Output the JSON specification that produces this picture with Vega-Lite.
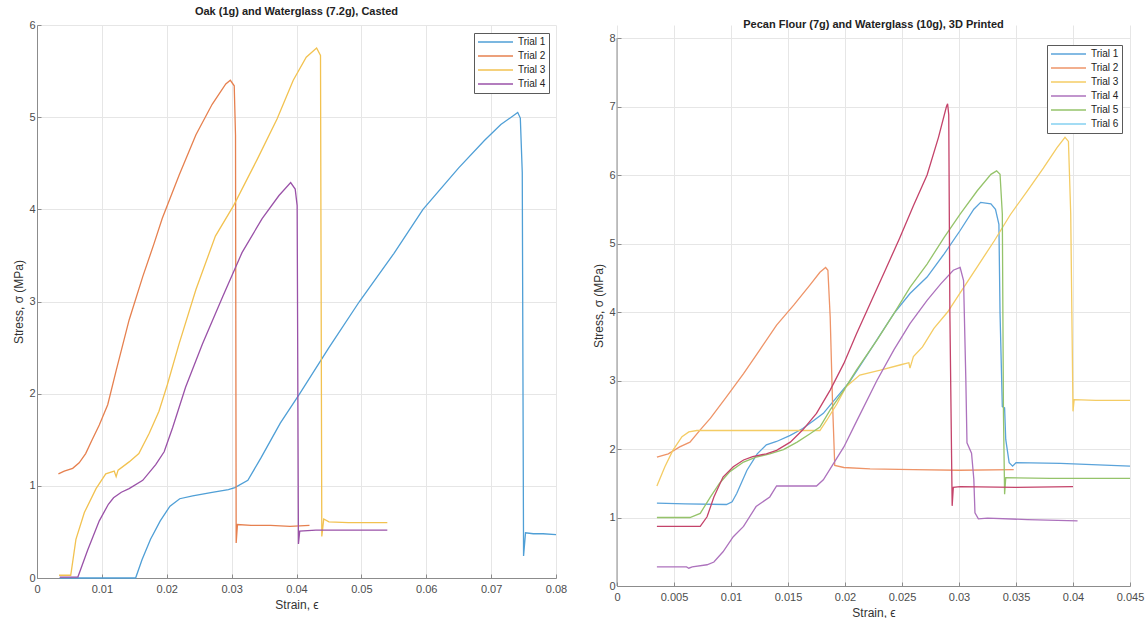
{
  "$schema": "https://vega.github.io/schema/vega-lite/v6.json",
  "padding": {"left": 12, "top": 6, "right": 5, "bottom": 0},
  "datasets": {
    "oak": [
      {"trial": "Trial 1", "strain": 0.0035, "stress": 0.0},
      {"trial": "Trial 1", "strain": 0.010, "stress": 0.0},
      {"trial": "Trial 1", "strain": 0.0152, "stress": 0.0},
      {"trial": "Trial 1", "strain": 0.0162, "stress": 0.2},
      {"trial": "Trial 1", "strain": 0.0175, "stress": 0.42},
      {"trial": "Trial 1", "strain": 0.019, "stress": 0.62},
      {"trial": "Trial 1", "strain": 0.0205, "stress": 0.78},
      {"trial": "Trial 1", "strain": 0.022, "stress": 0.86},
      {"trial": "Trial 1", "strain": 0.024, "stress": 0.89},
      {"trial": "Trial 1", "strain": 0.027, "stress": 0.93},
      {"trial": "Trial 1", "strain": 0.0295, "stress": 0.96},
      {"trial": "Trial 1", "strain": 0.0305, "stress": 0.98},
      {"trial": "Trial 1", "strain": 0.0325, "stress": 1.06},
      {"trial": "Trial 1", "strain": 0.0345, "stress": 1.3},
      {"trial": "Trial 1", "strain": 0.0375, "stress": 1.68},
      {"trial": "Trial 1", "strain": 0.0405, "stress": 2.0},
      {"trial": "Trial 1", "strain": 0.045, "stress": 2.5},
      {"trial": "Trial 1", "strain": 0.0497, "stress": 3.0},
      {"trial": "Trial 1", "strain": 0.055, "stress": 3.52},
      {"trial": "Trial 1", "strain": 0.0595, "stress": 4.0},
      {"trial": "Trial 1", "strain": 0.065, "stress": 4.45},
      {"trial": "Trial 1", "strain": 0.069, "stress": 4.75},
      {"trial": "Trial 1", "strain": 0.0715, "stress": 4.92},
      {"trial": "Trial 1", "strain": 0.0733, "stress": 5.01},
      {"trial": "Trial 1", "strain": 0.0741, "stress": 5.05},
      {"trial": "Trial 1", "strain": 0.0745, "stress": 4.99},
      {"trial": "Trial 1", "strain": 0.0748, "stress": 4.4},
      {"trial": "Trial 1", "strain": 0.075, "stress": 0.24},
      {"trial": "Trial 1", "strain": 0.0753, "stress": 0.49},
      {"trial": "Trial 1", "strain": 0.0765, "stress": 0.48},
      {"trial": "Trial 1", "strain": 0.078, "stress": 0.48},
      {"trial": "Trial 1", "strain": 0.08, "stress": 0.47},

      {"trial": "Trial 2", "strain": 0.0033, "stress": 1.13},
      {"trial": "Trial 2", "strain": 0.0042, "stress": 1.16},
      {"trial": "Trial 2", "strain": 0.0055, "stress": 1.19},
      {"trial": "Trial 2", "strain": 0.0065, "stress": 1.25},
      {"trial": "Trial 2", "strain": 0.0075, "stress": 1.35},
      {"trial": "Trial 2", "strain": 0.0085, "stress": 1.5},
      {"trial": "Trial 2", "strain": 0.0096, "stress": 1.66},
      {"trial": "Trial 2", "strain": 0.0109, "stress": 1.88},
      {"trial": "Trial 2", "strain": 0.0122, "stress": 2.25},
      {"trial": "Trial 2", "strain": 0.0142, "stress": 2.8},
      {"trial": "Trial 2", "strain": 0.0163, "stress": 3.27},
      {"trial": "Trial 2", "strain": 0.018, "stress": 3.62},
      {"trial": "Trial 2", "strain": 0.0193, "stress": 3.9},
      {"trial": "Trial 2", "strain": 0.0219, "stress": 4.37},
      {"trial": "Trial 2", "strain": 0.0245, "stress": 4.81},
      {"trial": "Trial 2", "strain": 0.027, "stress": 5.14},
      {"trial": "Trial 2", "strain": 0.0291, "stress": 5.36},
      {"trial": "Trial 2", "strain": 0.0298, "stress": 5.4},
      {"trial": "Trial 2", "strain": 0.0304, "stress": 5.34},
      {"trial": "Trial 2", "strain": 0.0306, "stress": 4.8},
      {"trial": "Trial 2", "strain": 0.0307, "stress": 0.38},
      {"trial": "Trial 2", "strain": 0.0309, "stress": 0.58},
      {"trial": "Trial 2", "strain": 0.033, "stress": 0.57},
      {"trial": "Trial 2", "strain": 0.036, "stress": 0.57},
      {"trial": "Trial 2", "strain": 0.039, "stress": 0.56},
      {"trial": "Trial 2", "strain": 0.042, "stress": 0.57},

      {"trial": "Trial 3", "strain": 0.0034, "stress": 0.03},
      {"trial": "Trial 3", "strain": 0.0052, "stress": 0.03},
      {"trial": "Trial 3", "strain": 0.006, "stress": 0.42},
      {"trial": "Trial 3", "strain": 0.0073, "stress": 0.71},
      {"trial": "Trial 3", "strain": 0.0091, "stress": 0.97},
      {"trial": "Trial 3", "strain": 0.0106, "stress": 1.13},
      {"trial": "Trial 3", "strain": 0.0119, "stress": 1.16},
      {"trial": "Trial 3", "strain": 0.0122, "stress": 1.1},
      {"trial": "Trial 3", "strain": 0.0125, "stress": 1.17},
      {"trial": "Trial 3", "strain": 0.0142, "stress": 1.26},
      {"trial": "Trial 3", "strain": 0.0157, "stress": 1.35},
      {"trial": "Trial 3", "strain": 0.0173, "stress": 1.57},
      {"trial": "Trial 3", "strain": 0.0188, "stress": 1.81},
      {"trial": "Trial 3", "strain": 0.0201, "stress": 2.1},
      {"trial": "Trial 3", "strain": 0.0219, "stress": 2.54},
      {"trial": "Trial 3", "strain": 0.0245, "stress": 3.13},
      {"trial": "Trial 3", "strain": 0.0275, "stress": 3.71},
      {"trial": "Trial 3", "strain": 0.0303, "stress": 4.04},
      {"trial": "Trial 3", "strain": 0.034, "stress": 4.55},
      {"trial": "Trial 3", "strain": 0.037, "stress": 4.98},
      {"trial": "Trial 3", "strain": 0.0395, "stress": 5.4},
      {"trial": "Trial 3", "strain": 0.0415, "stress": 5.65},
      {"trial": "Trial 3", "strain": 0.0431, "stress": 5.75},
      {"trial": "Trial 3", "strain": 0.0437, "stress": 5.67},
      {"trial": "Trial 3", "strain": 0.0439, "stress": 0.45},
      {"trial": "Trial 3", "strain": 0.0442, "stress": 0.64},
      {"trial": "Trial 3", "strain": 0.045, "stress": 0.61},
      {"trial": "Trial 3", "strain": 0.048, "stress": 0.6},
      {"trial": "Trial 3", "strain": 0.051, "stress": 0.6},
      {"trial": "Trial 3", "strain": 0.054, "stress": 0.6},

      {"trial": "Trial 4", "strain": 0.0035, "stress": 0.01},
      {"trial": "Trial 4", "strain": 0.0063, "stress": 0.01},
      {"trial": "Trial 4", "strain": 0.0078, "stress": 0.3},
      {"trial": "Trial 4", "strain": 0.0096, "stress": 0.62},
      {"trial": "Trial 4", "strain": 0.011, "stress": 0.8},
      {"trial": "Trial 4", "strain": 0.0118, "stress": 0.87},
      {"trial": "Trial 4", "strain": 0.013, "stress": 0.93},
      {"trial": "Trial 4", "strain": 0.0142, "stress": 0.97},
      {"trial": "Trial 4", "strain": 0.0163, "stress": 1.06},
      {"trial": "Trial 4", "strain": 0.0183, "stress": 1.23},
      {"trial": "Trial 4", "strain": 0.0196, "stress": 1.37},
      {"trial": "Trial 4", "strain": 0.0209, "stress": 1.63},
      {"trial": "Trial 4", "strain": 0.0229, "stress": 2.07},
      {"trial": "Trial 4", "strain": 0.0255, "stress": 2.54},
      {"trial": "Trial 4", "strain": 0.0286, "stress": 3.05},
      {"trial": "Trial 4", "strain": 0.0316, "stress": 3.53},
      {"trial": "Trial 4", "strain": 0.0347, "stress": 3.9},
      {"trial": "Trial 4", "strain": 0.0373, "stress": 4.15},
      {"trial": "Trial 4", "strain": 0.0391, "stress": 4.29},
      {"trial": "Trial 4", "strain": 0.0398, "stress": 4.22},
      {"trial": "Trial 4", "strain": 0.0401, "stress": 4.04},
      {"trial": "Trial 4", "strain": 0.0403, "stress": 0.37},
      {"trial": "Trial 4", "strain": 0.0405, "stress": 0.51},
      {"trial": "Trial 4", "strain": 0.043, "stress": 0.52},
      {"trial": "Trial 4", "strain": 0.047, "stress": 0.52},
      {"trial": "Trial 4", "strain": 0.051, "stress": 0.52},
      {"trial": "Trial 4", "strain": 0.054, "stress": 0.52}
    ],
    "pecan": [
      {"trial": "Trial 1", "strain": 0.0035, "stress": 1.21},
      {"trial": "Trial 1", "strain": 0.006, "stress": 1.2},
      {"trial": "Trial 1", "strain": 0.0096, "stress": 1.19},
      {"trial": "Trial 1", "strain": 0.0101, "stress": 1.23},
      {"trial": "Trial 1", "strain": 0.0105, "stress": 1.35},
      {"trial": "Trial 1", "strain": 0.0114, "stress": 1.69},
      {"trial": "Trial 1", "strain": 0.0123, "stress": 1.93},
      {"trial": "Trial 1", "strain": 0.0131, "stress": 2.06},
      {"trial": "Trial 1", "strain": 0.014, "stress": 2.11},
      {"trial": "Trial 1", "strain": 0.0152, "stress": 2.2},
      {"trial": "Trial 1", "strain": 0.0163, "stress": 2.3},
      {"trial": "Trial 1", "strain": 0.0172, "stress": 2.41},
      {"trial": "Trial 1", "strain": 0.0181, "stress": 2.52},
      {"trial": "Trial 1", "strain": 0.0193, "stress": 2.76},
      {"trial": "Trial 1", "strain": 0.0204, "stress": 2.98},
      {"trial": "Trial 1", "strain": 0.0222, "stress": 3.44},
      {"trial": "Trial 1", "strain": 0.0243, "stress": 3.98},
      {"trial": "Trial 1", "strain": 0.0257, "stress": 4.27},
      {"trial": "Trial 1", "strain": 0.0272, "stress": 4.51},
      {"trial": "Trial 1", "strain": 0.0287, "stress": 4.85},
      {"trial": "Trial 1", "strain": 0.0301, "stress": 5.19},
      {"trial": "Trial 1", "strain": 0.0313, "stress": 5.5},
      {"trial": "Trial 1", "strain": 0.0319, "stress": 5.6},
      {"trial": "Trial 1", "strain": 0.0328, "stress": 5.58},
      {"trial": "Trial 1", "strain": 0.0332, "stress": 5.5},
      {"trial": "Trial 1", "strain": 0.0335, "stress": 5.28},
      {"trial": "Trial 1", "strain": 0.0336, "stress": 3.98},
      {"trial": "Trial 1", "strain": 0.0338, "stress": 2.62},
      {"trial": "Trial 1", "strain": 0.034, "stress": 2.6},
      {"trial": "Trial 1", "strain": 0.0341, "stress": 2.14},
      {"trial": "Trial 1", "strain": 0.0344, "stress": 1.8},
      {"trial": "Trial 1", "strain": 0.0347, "stress": 1.75},
      {"trial": "Trial 1", "strain": 0.035, "stress": 1.8},
      {"trial": "Trial 1", "strain": 0.0389, "stress": 1.79},
      {"trial": "Trial 1", "strain": 0.045, "stress": 1.75},

      {"trial": "Trial 2", "strain": 0.0035, "stress": 1.88},
      {"trial": "Trial 2", "strain": 0.0045, "stress": 1.93},
      {"trial": "Trial 2", "strain": 0.0055, "stress": 2.03},
      {"trial": "Trial 2", "strain": 0.0064, "stress": 2.1},
      {"trial": "Trial 2", "strain": 0.0073, "stress": 2.28},
      {"trial": "Trial 2", "strain": 0.0082, "stress": 2.45},
      {"trial": "Trial 2", "strain": 0.0096, "stress": 2.76},
      {"trial": "Trial 2", "strain": 0.0111, "stress": 3.1},
      {"trial": "Trial 2", "strain": 0.0125, "stress": 3.44},
      {"trial": "Trial 2", "strain": 0.014, "stress": 3.81},
      {"trial": "Trial 2", "strain": 0.0155, "stress": 4.1},
      {"trial": "Trial 2", "strain": 0.0169, "stress": 4.39},
      {"trial": "Trial 2", "strain": 0.0178, "stress": 4.58},
      {"trial": "Trial 2", "strain": 0.0183, "stress": 4.65},
      {"trial": "Trial 2", "strain": 0.0185, "stress": 4.61},
      {"trial": "Trial 2", "strain": 0.0187, "stress": 3.93},
      {"trial": "Trial 2", "strain": 0.0189, "stress": 2.71},
      {"trial": "Trial 2", "strain": 0.0191, "stress": 1.76},
      {"trial": "Trial 2", "strain": 0.0199, "stress": 1.73},
      {"trial": "Trial 2", "strain": 0.0222, "stress": 1.71},
      {"trial": "Trial 2", "strain": 0.026, "stress": 1.7},
      {"trial": "Trial 2", "strain": 0.03, "stress": 1.69},
      {"trial": "Trial 2", "strain": 0.0348, "stress": 1.7},

      {"trial": "Trial 3", "strain": 0.0035, "stress": 1.46},
      {"trial": "Trial 3", "strain": 0.0042, "stress": 1.74},
      {"trial": "Trial 3", "strain": 0.0049, "stress": 1.98},
      {"trial": "Trial 3", "strain": 0.0057, "stress": 2.18},
      {"trial": "Trial 3", "strain": 0.0063, "stress": 2.25},
      {"trial": "Trial 3", "strain": 0.007, "stress": 2.27},
      {"trial": "Trial 3", "strain": 0.012, "stress": 2.27},
      {"trial": "Trial 3", "strain": 0.0178, "stress": 2.27},
      {"trial": "Trial 3", "strain": 0.0184, "stress": 2.42},
      {"trial": "Trial 3", "strain": 0.0193, "stress": 2.66},
      {"trial": "Trial 3", "strain": 0.0201, "stress": 2.91},
      {"trial": "Trial 3", "strain": 0.0213, "stress": 3.08},
      {"trial": "Trial 3", "strain": 0.0231, "stress": 3.15},
      {"trial": "Trial 3", "strain": 0.0249, "stress": 3.23},
      {"trial": "Trial 3", "strain": 0.0256, "stress": 3.26},
      {"trial": "Trial 3", "strain": 0.0257, "stress": 3.18},
      {"trial": "Trial 3", "strain": 0.026, "stress": 3.35},
      {"trial": "Trial 3", "strain": 0.0268, "stress": 3.49},
      {"trial": "Trial 3", "strain": 0.0278, "stress": 3.76},
      {"trial": "Trial 3", "strain": 0.029, "stress": 4.0},
      {"trial": "Trial 3", "strain": 0.0301, "stress": 4.28},
      {"trial": "Trial 3", "strain": 0.0316, "stress": 4.66},
      {"trial": "Trial 3", "strain": 0.0331, "stress": 5.04},
      {"trial": "Trial 3", "strain": 0.0345, "stress": 5.42},
      {"trial": "Trial 3", "strain": 0.036, "stress": 5.77},
      {"trial": "Trial 3", "strain": 0.0374, "stress": 6.1},
      {"trial": "Trial 3", "strain": 0.0386, "stress": 6.4},
      {"trial": "Trial 3", "strain": 0.0393, "stress": 6.55},
      {"trial": "Trial 3", "strain": 0.0396, "stress": 6.49},
      {"trial": "Trial 3", "strain": 0.0398, "stress": 5.43},
      {"trial": "Trial 3", "strain": 0.04, "stress": 2.55},
      {"trial": "Trial 3", "strain": 0.0401, "stress": 2.72},
      {"trial": "Trial 3", "strain": 0.042, "stress": 2.71},
      {"trial": "Trial 3", "strain": 0.045, "stress": 2.71},

      {"trial": "Trial 4", "strain": 0.0035, "stress": 0.28},
      {"trial": "Trial 4", "strain": 0.0061, "stress": 0.28},
      {"trial": "Trial 4", "strain": 0.0063, "stress": 0.26},
      {"trial": "Trial 4", "strain": 0.0066, "stress": 0.28},
      {"trial": "Trial 4", "strain": 0.0079, "stress": 0.31},
      {"trial": "Trial 4", "strain": 0.0085, "stress": 0.35},
      {"trial": "Trial 4", "strain": 0.0093, "stress": 0.5},
      {"trial": "Trial 4", "strain": 0.0102, "stress": 0.72},
      {"trial": "Trial 4", "strain": 0.0111, "stress": 0.87},
      {"trial": "Trial 4", "strain": 0.0122, "stress": 1.16},
      {"trial": "Trial 4", "strain": 0.0134, "stress": 1.3},
      {"trial": "Trial 4", "strain": 0.014, "stress": 1.46},
      {"trial": "Trial 4", "strain": 0.0175, "stress": 1.46},
      {"trial": "Trial 4", "strain": 0.0181, "stress": 1.55},
      {"trial": "Trial 4", "strain": 0.019, "stress": 1.79},
      {"trial": "Trial 4", "strain": 0.0199, "stress": 2.03},
      {"trial": "Trial 4", "strain": 0.021, "stress": 2.4},
      {"trial": "Trial 4", "strain": 0.0228, "stress": 3.0},
      {"trial": "Trial 4", "strain": 0.0243, "stress": 3.45},
      {"trial": "Trial 4", "strain": 0.0257, "stress": 3.83},
      {"trial": "Trial 4", "strain": 0.0272, "stress": 4.17},
      {"trial": "Trial 4", "strain": 0.0284, "stress": 4.41},
      {"trial": "Trial 4", "strain": 0.0295, "stress": 4.61},
      {"trial": "Trial 4", "strain": 0.0301, "stress": 4.65},
      {"trial": "Trial 4", "strain": 0.0304, "stress": 4.46},
      {"trial": "Trial 4", "strain": 0.0306, "stress": 3.01},
      {"trial": "Trial 4", "strain": 0.0307, "stress": 2.09},
      {"trial": "Trial 4", "strain": 0.0311, "stress": 1.94},
      {"trial": "Trial 4", "strain": 0.0313, "stress": 1.56},
      {"trial": "Trial 4", "strain": 0.0314, "stress": 1.07},
      {"trial": "Trial 4", "strain": 0.0317, "stress": 0.98},
      {"trial": "Trial 4", "strain": 0.0325, "stress": 0.99},
      {"trial": "Trial 4", "strain": 0.036, "stress": 0.97},
      {"trial": "Trial 4", "strain": 0.0404, "stress": 0.95},

      {"trial": "Trial 5", "strain": 0.0035, "stress": 1.0},
      {"trial": "Trial 5", "strain": 0.0064, "stress": 1.0},
      {"trial": "Trial 5", "strain": 0.0073, "stress": 1.06},
      {"trial": "Trial 5", "strain": 0.0082, "stress": 1.3},
      {"trial": "Trial 5", "strain": 0.009, "stress": 1.5},
      {"trial": "Trial 5", "strain": 0.0099, "stress": 1.67},
      {"trial": "Trial 5", "strain": 0.0111, "stress": 1.81},
      {"trial": "Trial 5", "strain": 0.0122, "stress": 1.88},
      {"trial": "Trial 5", "strain": 0.0134, "stress": 1.93},
      {"trial": "Trial 5", "strain": 0.0146, "stress": 1.99},
      {"trial": "Trial 5", "strain": 0.0158, "stress": 2.1},
      {"trial": "Trial 5", "strain": 0.0169, "stress": 2.22},
      {"trial": "Trial 5", "strain": 0.0178, "stress": 2.32},
      {"trial": "Trial 5", "strain": 0.0187, "stress": 2.57},
      {"trial": "Trial 5", "strain": 0.0199, "stress": 2.86},
      {"trial": "Trial 5", "strain": 0.021, "stress": 3.15},
      {"trial": "Trial 5", "strain": 0.0228, "stress": 3.59},
      {"trial": "Trial 5", "strain": 0.0243, "stress": 3.98},
      {"trial": "Trial 5", "strain": 0.0257, "stress": 4.36},
      {"trial": "Trial 5", "strain": 0.0272, "stress": 4.7},
      {"trial": "Trial 5", "strain": 0.0287, "stress": 5.09},
      {"trial": "Trial 5", "strain": 0.0301, "stress": 5.43},
      {"trial": "Trial 5", "strain": 0.0316, "stress": 5.77},
      {"trial": "Trial 5", "strain": 0.0328, "stress": 6.01},
      {"trial": "Trial 5", "strain": 0.0333, "stress": 6.06},
      {"trial": "Trial 5", "strain": 0.0336, "stress": 6.01},
      {"trial": "Trial 5", "strain": 0.0338, "stress": 5.43},
      {"trial": "Trial 5", "strain": 0.0339, "stress": 2.52},
      {"trial": "Trial 5", "strain": 0.034, "stress": 1.34},
      {"trial": "Trial 5", "strain": 0.0341, "stress": 1.58},
      {"trial": "Trial 5", "strain": 0.038, "stress": 1.57},
      {"trial": "Trial 5", "strain": 0.045, "stress": 1.57},

      {"trial": "Trial 7", "strain": 0.0035, "stress": 0.87},
      {"trial": "Trial 7", "strain": 0.0073, "stress": 0.87},
      {"trial": "Trial 7", "strain": 0.0079, "stress": 1.01},
      {"trial": "Trial 7", "strain": 0.0085, "stress": 1.3},
      {"trial": "Trial 7", "strain": 0.0093, "stress": 1.59},
      {"trial": "Trial 7", "strain": 0.0102, "stress": 1.74},
      {"trial": "Trial 7", "strain": 0.0111, "stress": 1.84},
      {"trial": "Trial 7", "strain": 0.0119, "stress": 1.89},
      {"trial": "Trial 7", "strain": 0.0131, "stress": 1.93},
      {"trial": "Trial 7", "strain": 0.014, "stress": 1.98},
      {"trial": "Trial 7", "strain": 0.0152, "stress": 2.1},
      {"trial": "Trial 7", "strain": 0.0163, "stress": 2.28},
      {"trial": "Trial 7", "strain": 0.0175, "stress": 2.52},
      {"trial": "Trial 7", "strain": 0.0187, "stress": 2.86},
      {"trial": "Trial 7", "strain": 0.0199, "stress": 3.25},
      {"trial": "Trial 7", "strain": 0.021, "stress": 3.68},
      {"trial": "Trial 7", "strain": 0.0222, "stress": 4.12},
      {"trial": "Trial 7", "strain": 0.0235, "stress": 4.6},
      {"trial": "Trial 7", "strain": 0.0248, "stress": 5.08},
      {"trial": "Trial 7", "strain": 0.026, "stress": 5.55},
      {"trial": "Trial 7", "strain": 0.0272, "stress": 6.0},
      {"trial": "Trial 7", "strain": 0.0282, "stress": 6.55},
      {"trial": "Trial 7", "strain": 0.0289, "stress": 7.0},
      {"trial": "Trial 7", "strain": 0.029, "stress": 7.04},
      {"trial": "Trial 7", "strain": 0.0291, "stress": 6.88},
      {"trial": "Trial 7", "strain": 0.0292, "stress": 3.98},
      {"trial": "Trial 7", "strain": 0.0294, "stress": 1.17},
      {"trial": "Trial 7", "strain": 0.0295, "stress": 1.44},
      {"trial": "Trial 7", "strain": 0.0301, "stress": 1.45},
      {"trial": "Trial 7", "strain": 0.035, "stress": 1.44},
      {"trial": "Trial 7", "strain": 0.04, "stress": 1.45}
    ]
  },
  "hconcat": [
    {
      "width": 519,
      "height": 553,
      "title": {"text": "Oak (1g) and Waterglass (7.2g), Casted", "offset": 2},
      "data": {"name": "oak"},
      "mark": {"type": "line", "strokeWidth": 1.3},
      "encoding": {
        "x": {"field": "strain", "type": "quantitative",
              "scale": {"domain": [0, 0.08], "nice": false, "zero": false},
              "axis": {"values": [0, 0.01, 0.02, 0.03, 0.04, 0.05, 0.06, 0.07, 0.08], "format": "~g", "title": "Strain, ϵ"}},
        "y": {"field": "stress", "type": "quantitative",
              "scale": {"domain": [0, 6], "nice": false},
              "axis": {"values": [0, 1, 2, 3, 4, 5, 6], "format": "~g", "title": "Stress, σ (MPa)"}},
        "color": {"field": "trial", "type": "nominal",
                  "scale": {"domain": ["Trial 1", "Trial 2", "Trial 3", "Trial 4"],
                            "range": ["#4f9fd6", "#e6804f", "#f2c250", "#9a52a8"]},
                  "legend": {"orient": "none", "legendX": 437, "legendY": 8, "rowPadding": 2,
                             "labelExpr": "datum.label + '\u00a0\u00a0\u00a0\u00a0\u00a0\u00a0\u00a0'"}}
      }
    },
    {
      "width": 513,
      "height": 561,
      "title": {"text": "Pecan Flour (7g) and Waterglass (10g), 3D Printed", "offset": -5},
      "layer": [
        {
          "data": {"name": "pecan"},
          "mark": {"type": "line", "strokeWidth": 1.3},
          "encoding": {
            "x": {"field": "strain", "type": "quantitative",
                  "scale": {"domain": [0, 0.045], "nice": false, "zero": false},
                  "axis": {"values": [0, 0.005, 0.01, 0.015, 0.02, 0.025, 0.03, 0.035, 0.04, 0.045], "format": "~g", "title": "Strain, ϵ"}},
            "y": {"field": "stress", "type": "quantitative",
                  "scale": {"domain": [0, 8.19], "nice": false, "zero": false},
                  "axis": {"values": [0, 1, 2, 3, 4, 5, 6, 7, 8], "format": "~g", "title": "Stress, σ (MPa)", "domain": false}},
            "color": {"field": "trial", "type": "nominal",
                      "scale": {"domain": ["Trial 1", "Trial 2", "Trial 3", "Trial 4", "Trial 5", "Trial 6", "Trial 7"],
                                "range": ["#5aa3da", "#ee9468", "#f4cc64", "#ad72bd", "#95c36a", "#84d0f0", "#c4436a"]},
                      "legend": {"orient": "none", "legendX": 430, "legendY": 20, "rowPadding": 2,
                                 "values": ["Trial 1", "Trial 2", "Trial 3", "Trial 4", "Trial 5", "Trial 6"]}}
          }
        },
        {
          "data": {"values": [{"edge": 0, "low": 0, "high": 8}]},
          "mark": {"type": "rule", "color": "#8c8c8c", "strokeWidth": 1},
          "encoding": {
            "x": {"field": "edge", "type": "quantitative"},
            "y": {"field": "low", "type": "quantitative"},
            "y2": {"field": "high"}
          }
        }
      ]
    }
  ],
  "resolve": {"scale": {"color": "independent"}, "legend": {"color": "independent"}},
  "spacing": 25,
  "config": {
    "font": "Liberation Sans",
    "view": {"stroke": null},
    "title": {"fontSize": 11, "fontWeight": "bold", "color": "#222222", "font": "Liberation Sans"},
    "axis": {
      "domainColor": "#8c8c8c",
      "tickColor": "#8c8c8c",
      "tickSize": -4,
      "gridColor": "#e6e6e6",
      "labelColor": "#4d4d4d",
      "labelFontSize": 11,
      "labelPadding": 6,
      "labelFlush": false,
      "labelOverlap": false,
      "titleFontSize": 12,
      "titleFontWeight": "normal",
      "titleColor": "#333333",
      "titlePadding": 3
    },
    "axisX": {"labelPadding": 9, "titlePadding": 5},
    "legend": {
      "title": null,
      "fillColor": "#ffffff",
      "strokeColor": "#5a5a5a",
      "padding": 3,
      "symbolType": "stroke",
      "symbolSize": 1225,
      "symbolStrokeWidth": 1.5,
      "labelFontSize": 10,
      "labelColor": "#222222",
      "labelOffset": 4,
      "clipHeight": 12,
      "rowPadding": 3,
      "labelExpr": "datum.label + '\u00a0\u00a0\u00a0'"
    }
  }
}
